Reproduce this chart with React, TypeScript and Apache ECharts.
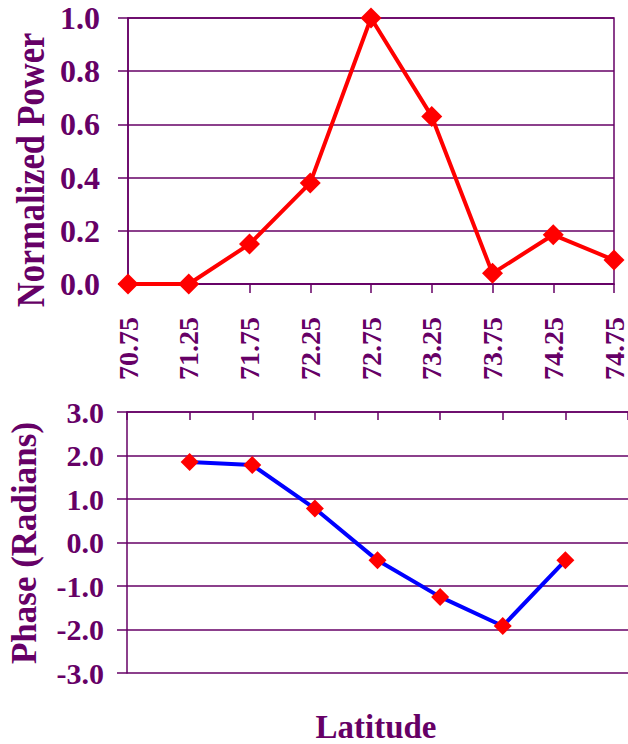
import React, { useEffect, useRef } from "react";
import * as echarts from "echarts";

const latitudes = ["70.75", "71.25", "71.75", "72.25", "72.75", "73.25", "73.75", "74.25", "74.75"];
const powerValues = [0.0, 0.0, 0.15, 0.38, 1.0, 0.63, 0.04, 0.185, 0.09];
const phaseValues = [null, 1.85, 1.78, 0.78, -0.41, -1.25, -1.92, -0.41, null];

const PURPLE = "#660066";
const FONT = '"Liberation Serif", "Times New Roman", serif';

export default function App() {
  const ref = useRef<HTMLDivElement>(null);
  useEffect(() => {
    if (!ref.current) return;
    const chart = echarts.init(ref.current, null, { renderer: "svg" });
    const axisLabelStyle = {
      color: PURPLE,
      fontFamily: FONT,
      fontWeight: "bold" as const,
    };
    chart.setOption({
      animation: false,
      backgroundColor: "#ffffff",
      grid: [
        {
          left: 128,
          right: 11,
          top: 18,
          bottom: 460,
          show: true,
          borderColor: PURPLE,
          borderWidth: 1.5,
          backgroundColor: "transparent",
        },
        { left: 127, right: -3, top: 412, bottom: 71 },
      ],
      xAxis: [
        {
          gridIndex: 0,
          type: "category",
          data: latitudes,
          boundaryGap: false,
          axisLine: { show: true, onZero: false, lineStyle: { color: PURPLE, width: 1.5 } },
          axisTick: { show: true, inside: false, length: 9, lineStyle: { color: PURPLE, width: 1.5 } },
          axisLabel: { ...axisLabelStyle, fontSize: 28, rotate: 90, margin: 33, interval: 0 },
          splitLine: { show: false },
        },
        {
          gridIndex: 1,
          type: "category",
          data: latitudes,
          position: "top",
          boundaryGap: false,
          axisLine: { show: true, onZero: false, lineStyle: { color: PURPLE, width: 1.5 } },
          axisTick: { show: true, inside: true, length: 8, lineStyle: { color: PURPLE, width: 1.5 } },
          axisLabel: { show: false },
          splitLine: { show: false },
        },
      ],
      yAxis: [
        {
          gridIndex: 0,
          type: "value",
          min: 0,
          max: 1,
          interval: 0.2,
          axisLine: { show: true, lineStyle: { color: PURPLE, width: 1.5 } },
          axisTick: { show: true, inside: false, length: 10, lineStyle: { color: PURPLE, width: 1.5 } },
          axisLabel: {
            ...axisLabelStyle,
            fontSize: 32,
            margin: 28,
            formatter: (v: number) => v.toFixed(1),
          },
          splitLine: { show: true, lineStyle: { color: PURPLE, width: 1.5 } },
        },
        {
          gridIndex: 1,
          type: "value",
          min: -3,
          max: 3,
          interval: 1,
          axisLine: { show: true, lineStyle: { color: PURPLE, width: 1.5 } },
          axisTick: { show: true, inside: false, length: 10, lineStyle: { color: PURPLE, width: 1.5 } },
          axisLabel: {
            ...axisLabelStyle,
            fontSize: 30,
            margin: 23,
            formatter: (v: number) => v.toFixed(1),
          },
          splitLine: { show: true, lineStyle: { color: PURPLE, width: 1.5 } },
        },
      ],
      series: [
        {
          type: "line",
          xAxisIndex: 0,
          yAxisIndex: 0,
          data: powerValues,
          symbol: "diamond",
          symbolSize: 21,
          lineStyle: { color: "#ff0000", width: 4 },
          itemStyle: { color: "#ff0000" },
          z: 5,
        },
        {
          type: "line",
          xAxisIndex: 1,
          yAxisIndex: 1,
          data: phaseValues,
          symbol: "diamond",
          symbolSize: 18,
          lineStyle: { color: "#0000ff", width: 4 },
          itemStyle: { color: "#ff0000" },
          z: 5,
        },
      ],
      graphic: [
        {
          type: "text",
          x: 30,
          y: 170,
          rotation: Math.PI / 2,
          scaleX: 0.84,
          style: {
            text: "Normalized Power",
            fontSize: 41,
            fontFamily: FONT,
            fontWeight: "bold",
            fill: PURPLE,
            align: "center",
            verticalAlign: "middle",
          },
        },
        {
          type: "text",
          x: 24,
          y: 543,
          rotation: Math.PI / 2,
          style: {
            text: "Phase (Radians)",
            fontSize: 35,
            fontFamily: FONT,
            fontWeight: "bold",
            fill: PURPLE,
            align: "center",
            verticalAlign: "middle",
          },
        },
        {
          type: "text",
          x: 376,
          y: 727,
          style: {
            text: "Latitude",
            fontSize: 33,
            fontFamily: FONT,
            fontWeight: "bold",
            fill: PURPLE,
            align: "center",
            verticalAlign: "middle",
          },
        },
      ],
    });
    return () => chart.dispose();
  }, []);
  return (
    <div
      ref={ref}
      style={{ position: "fixed", left: 0, top: 0, width: 628, height: 744, background: "#fff" }}
    />
  );
}
